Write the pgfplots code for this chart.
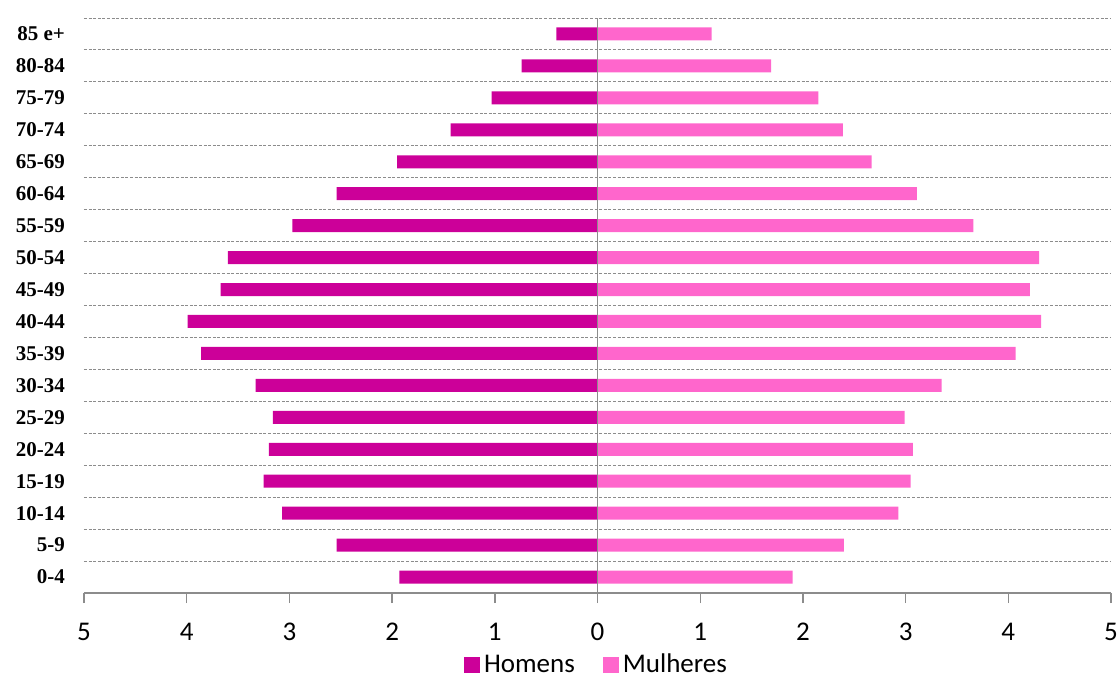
\documentclass[border=0pt]{standalone}
\usepackage{pgfplots}
\pgfplotsset{compat=1.18}
\usepackage{fontspec}
\setmainfont{Carlito}
\newfontfamily\catfont{Liberation Serif}
\definecolor{hom}{HTML}{CC0099}
\definecolor{mul}{HTML}{FF66CC}
\definecolor{axgray}{HTML}{8C8C8C}
\begin{document}
\begin{tikzpicture}
\path[use as bounding box] (-42pt,-44pt) rectangle (518pt,296.5pt);
\begin{axis}[
  scale only axis,
  width=513.5pt, height=287.5pt,
  xmin=-5, xmax=5, ymin=-0.5, ymax=17.5,
  xbar, bar width=6.5pt,
  xtick={-5,-4,-3,-2,-1,0,1,2,3,4,5},
  xticklabels={5,4,3,2,1,0,1,2,3,4,5},
  ytick={0,...,17},
  yticklabels={0-4,5-9,10-14,15-19,20-24,25-29,30-34,35-39,40-44,45-49,50-54,55-59,60-64,65-69,70-74,75-79,80-84,85 e+},
  yticklabel style={font=\catfont\bfseries\fontsize{10.5}{12}\selectfont, xshift=-1pt},
  xticklabel style={font=\fontsize{13.5}{15}\selectfont, yshift=-6.5pt},
  minor ytick={0.5,1.5,...,17.5},
  minor grid style={axgray, dash pattern=on 1.5pt off 0.8pt, line width=0.5pt},
  yminorgrids=true,
  axis x line*=bottom,
  axis y line*=left,
  y axis line style={draw=none},
  ytick style={draw=none},
  minor tick style={draw=none},
  x axis line style={axgray, line width=0.7pt},
  xtick style={axgray, line width=0.7pt},
  tick align=outside,
  major tick length=5pt,
  legend style={at={(0.5,-0.125)}, anchor=center, draw=none, legend columns=2,
     font=\fontsize{13.5}{15}\selectfont, /tikz/every even column/.append style={column sep=12pt}},
  legend image code/.code={\fill[#1] (0pt,-4pt) rectangle (8pt,4pt);},
]
\addplot[draw=none, fill=hom, bar shift=0pt] coordinates {
(-1.93,0) (-2.54,1) (-3.07,2) (-3.25,3) (-3.20,4) (-3.16,5) (-3.33,6) (-3.86,7) (-3.99,8)
(-3.67,9) (-3.60,10) (-2.97,11) (-2.54,12) (-1.95,13) (-1.43,14) (-1.03,15) (-0.74,16) (-0.40,17)};
\addlegendentry{Homens}
\addplot[draw=none, fill=mul, bar shift=0pt] coordinates {
(1.90,0) (2.40,1) (2.93,2) (3.05,3) (3.07,4) (2.99,5) (3.35,6) (4.07,7) (4.32,8)
(4.21,9) (4.30,10) (3.66,11) (3.11,12) (2.67,13) (2.39,14) (2.15,15) (1.69,16) (1.11,17)};
\addlegendentry{Mulheres}
\draw[axgray, line width=0.7pt] (axis cs:0,-0.5) -- (axis cs:0,17.5);
\end{axis}
\end{tikzpicture}
\end{document}
